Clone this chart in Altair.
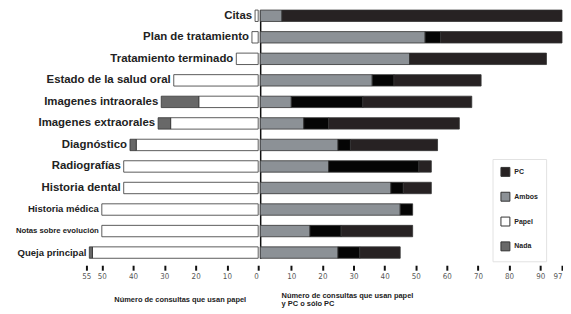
import altair as alt
import pandas as pd

categories = ["Citas", "Plan de tratamiento", "Tratamiento terminado",
              "Estado de la salud oral", "Imagenes intraorales", "Imagenes extraorales",
              "Diagnóstico", "Radiografías", "Historia dental", "Historia médica",
              "Notas sobre evolución", "Queja principal"]
# left side (consultas que usan papel)
papel = [1, 2, 7, 27, 19, 28, 39, 43, 43, 50, 50, 53]
nada = [0, 0, 0, 0, 12, 4, 2, 0, 0, 0, 0, 1]
# right side (papel y PC o sólo PC)
ambos = [7, 53, 48, 36, 10, 14, 25, 22, 42, 45, 16, 25]
pc_negro = [0, 5, 0, 7, 23, 8, 4, 29, 4, 4, 10, 7]
pc = [90, 39, 44, 28, 35, 42, 28, 4, 9, 0, 23, 13]

left_ticks = [0, 10, 20, 30, 40, 50, 55]
right_ticks = [10, 20, 30, 40, 50, 60, 70, 80, 90, 97]

series = ["PC", "Ambos", "Papel", "Nada", "PC2"]
colors = ["#272223", "#8c9196", "#ffffff", "#686868", "#050505"]

rows = []
for i, c in enumerate(categories):
    for s, v, o, side in [("Papel", papel[i], 0, "L"), ("Nada", nada[i], 1, "L"),
                          ("Ambos", ambos[i], 0, "R"), ("PC2", pc_negro[i], 1, "R"),
                          ("PC", pc[i], 2, "R")]:
        if v > 0:
            rows.append({"cat": c, "serie": s, "value": v, "ord": o, "side": side})
df = pd.DataFrame(rows)
lab = pd.DataFrame({"cat": categories, "total": [a + b for a, b in zip(papel, nada)]})

legend = alt.Legend(values=["PC", "Ambos", "Papel", "Nada"], title=None, orient="none",
                    legendX=488, legendY=150, symbolType="square", symbolSize=81,
                    symbolStrokeColor="#333", symbolStrokeWidth=1, labelFont="Liberation Sans",
                    labelFontWeight="bold", labelFontSize=7, labelColor="#222", labelOffset=4,
                    rowPadding=11, padding=8, strokeColor="#e2e2e2", fillColor="white")
color = alt.Color("serie:N", scale=alt.Scale(domain=series, range=colors), legend=legend)
yenc = alt.Y("cat:N", sort=categories, title=None,
             scale=alt.Scale(paddingInner=0.47, paddingOuter=0))

axis_common = dict(domain=False, grid=False, tickColor="#111", tickWidth=2, tickSize=5,
                   offset=7, labelFont="Liberation Sans Narrow, DejaVu Sans Condensed, sans-serif",
                   labelFontSize=8, labelColor="#555", labelPadding=2,
                   titleFont="Liberation Sans", titleFontWeight="bold", titleFontSize=7.5,
                   titleColor="#222", titleBaseline="top")

xl = alt.X("value:Q", stack="zero",
           scale=alt.Scale(domain=[0, 80], reverse=True, nice=False, zero=True),
           axis=alt.Axis(values=left_ticks, title="Número de consultas que usan papel",
                         titleX=173, titleY=31, titleAlign="center", **axis_common))

bars_l = alt.Chart(df).transform_filter(alt.datum.side == "L").mark_bar(
    stroke="#333", strokeWidth=0.8).encode(
    x=xl, y=yenc.axis(None), color=color, order=alt.Order("ord:Q"))

size = alt.when(alt.FieldEqualPredicate(field="cat", equal="Notas sobre evolución")).then(
    alt.value(7.8)).when(alt.FieldOneOfPredicate(field="cat", oneOf=["Historia médica", "Queja principal"])).then(
    alt.value(9.6)).otherwise(alt.value(11.5))

text_l = alt.Chart(lab).mark_text(align="right", baseline="middle", dx=-3,
                                  font="Liberation Sans", fontWeight="bold", color="#222").encode(
    x=alt.X("total:Q", scale=alt.Scale(domain=[0, 80], reverse=True, nice=False)),
    y=yenc.axis(None), text="cat:N", size=size)

left = alt.layer(bars_l, text_l).properties(width=252, height=250)

right = alt.Chart(df).transform_filter(alt.datum.side == "R").mark_bar(
    stroke="#333", strokeWidth=0.8).encode(
    x=alt.X("value:Q", stack="zero", scale=alt.Scale(domain=[0, 97], nice=False),
            axis=alt.Axis(values=right_ticks,
                          title=["Número de consultas que usan papel", "y PC o sólo PC"],
                          titleX=21, titleY=27, titleAlign="left", titleLineHeight=8,
                          **axis_common)),
    y=yenc.axis(alt.Axis(labels=False, ticks=False, title=None, domain=True,
                         domainColor="#111", domainWidth=1.5, grid=False)),
    color=color, order=alt.Order("ord:Q")).properties(width=304, height=250)

chart = alt.hconcat(left, right, spacing=0).resolve_scale(color="shared").properties(
    padding=0, background="white").configure_view(stroke=None)

chart.save("out.html", embed_options={"renderer": "svg", "actions": False})
